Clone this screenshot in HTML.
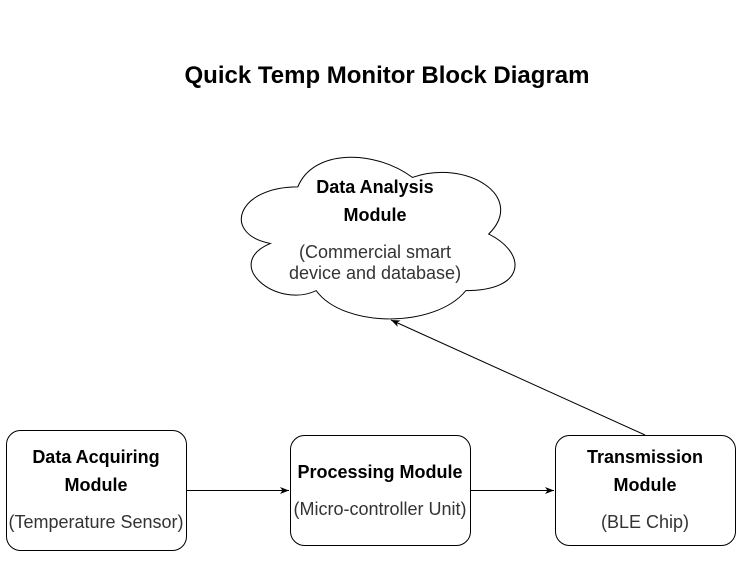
<!DOCTYPE html>
<html><head><style>
body{margin:0;background:#fff;width:741px;height:571px;overflow:hidden;font-family:"Liberation Sans",sans-serif;}
</style></head><body>
<svg width="741" height="571" xmlns="http://www.w3.org/2000/svg" font-family="Liberation Sans, sans-serif">
<defs><marker id="a" markerWidth="10" markerHeight="10" refX="9" refY="5" orient="auto" markerUnits="userSpaceOnUse"><path d="M0,1.5 L9,5 L0,8.5 L2.5,5 Z" fill="#000"/></marker></defs>
<text x="387" y="83" text-anchor="middle" font-size="24" font-weight="bold">Quick Temp Monitor Block Diagram</text>
<g transform="translate(378,157) scale(1.083,1.02) translate(-380.5,-157)">
<path d="M306.5,186.25 C250.1,186.25 236,232.5 281.1,241.75 C236,262.1 286.8,306.5 323.4,288 C348.8,325 433.4,325 461.6,288 C518,288 518,251 482.75,232.5 C518,195.5 461.6,158.5 412.25,177 C377,149.25 320.6,149.25 306.5,186.25 Z" fill="#fff" stroke="#000" stroke-width="0.95"/>
</g>
<text x="375" y="193" text-anchor="middle" font-size="18" font-weight="bold">Data Analysis</text>
<text x="375" y="221" text-anchor="middle" font-size="18" font-weight="bold">Module</text>
<text x="375" y="258" text-anchor="middle" font-size="18" fill="#333">(Commercial smart</text>
<text x="375" y="279" text-anchor="middle" font-size="18" fill="#333">device and database)</text>
<rect x="6.5" y="430.5" width="180" height="120" rx="14" fill="#fff" stroke="#000"/>
<text x="96" y="463" text-anchor="middle" font-size="18" font-weight="bold">Data Acquiring</text>
<text x="96" y="491" text-anchor="middle" font-size="18" font-weight="bold">Module</text>
<text x="96" y="528" text-anchor="middle" font-size="18" fill="#333">(Temperature Sensor)</text>
<rect x="290.5" y="435.5" width="180" height="110" rx="14" fill="#fff" stroke="#000"/>
<text x="380" y="478" text-anchor="middle" font-size="18" font-weight="bold">Processing Module</text>
<text x="380" y="515" text-anchor="middle" font-size="18" fill="#333">(Micro-controller Unit)</text>
<rect x="555.5" y="435.5" width="180" height="110" rx="14" fill="#fff" stroke="#000"/>
<text x="645" y="463" text-anchor="middle" font-size="18" font-weight="bold">Transmission</text>
<text x="645" y="491" text-anchor="middle" font-size="18" font-weight="bold">Module</text>
<text x="645" y="528" text-anchor="middle" font-size="18" fill="#333">(BLE Chip)</text>
<line x1="187" y1="490.5" x2="289" y2="490.5" stroke="#000" marker-end="url(#a)"/>
<line x1="471" y1="490.5" x2="554" y2="490.5" stroke="#000" marker-end="url(#a)"/>
<line x1="645" y1="435" x2="391" y2="320" stroke="#000" marker-end="url(#a)"/>
</svg>
</body></html>
